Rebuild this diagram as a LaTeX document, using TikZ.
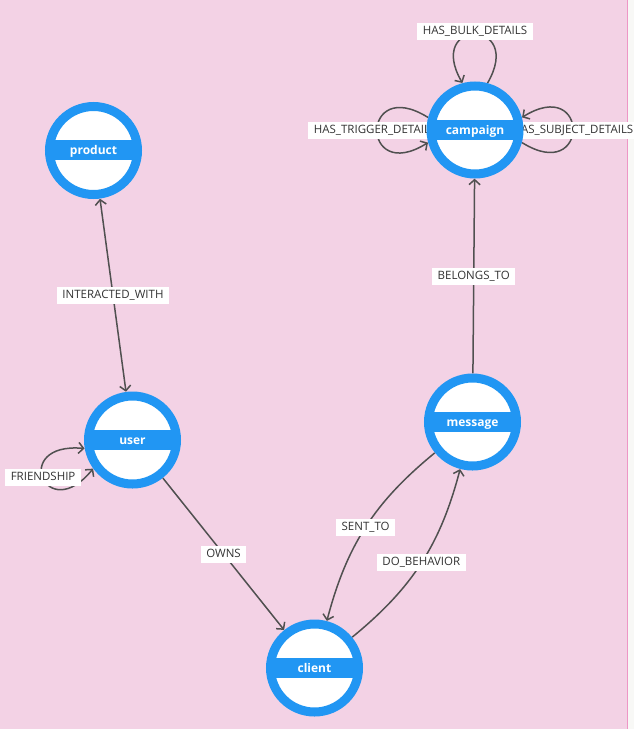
\documentclass[tikz,border=0pt]{standalone}
\usepackage{fontspec}
\setmainfont{Open Sans}
\usetikzlibrary{arrows.meta,calc}
\definecolor{bgpink}{RGB}{243,210,229}
\definecolor{nodeblue}{RGB}{33,150,243}
\definecolor{edgegrey}{RGB}{80,80,80}
\definecolor{striprule}{RGB}{238,150,198}
\definecolor{stripbg}{RGB}{248,248,246}
\definecolor{labeltext}{RGB}{51,51,51}
\newcommand\drawgnode[2]{%
  \fill[white] (#1.center) circle (44pt);
  \begin{scope}
    \clip (#1.center) circle (44pt);
    \fill[nodeblue] ($(#1.center)+(-50pt,-9.5pt)$) rectangle ($(#1.center)+(50pt,10.5pt)$);
  \end{scope}
  \draw[nodeblue,line width=9pt] (#1.center) circle (44pt);
  \node[nodetext] at ($(#1.center)+(0,1)$) {#2};}
\begin{document}
\begin{tikzpicture}[x=1pt,y=-1pt,
  anchornode/.style={circle,minimum size=97pt,inner sep=0pt},
  tipbarb/.tip={Straight Barb[length=5pt,width=11pt]},
  rel/.style={draw=edgegrey,line width=1.5pt,-tipbarb},
  birel/.style={draw=edgegrey,line width=1.5pt,tipbarb-tipbarb},
  rellabel/.style={fill=white,text=labeltext,font=\fontsize{11.5}{12}\selectfont,inner xsep=5.5pt,inner ysep=3pt,text height=8.5pt,text depth=2.5pt},
  nodetext/.style={text=white,font=\fontsize{12}{13}\selectfont\bfseries,inner sep=0pt,text height=8.5pt,text depth=2.5pt}
]
\useasboundingbox (0,0) rectangle (634,729);
\clip (0,0) rectangle (634,729);
\fill[bgpink] (0,0) rectangle (634,729);
\fill[stripbg] (628,0) rectangle (634,729);
\draw[striprule,line width=1.2pt] (627.5,0) -- (627.5,729);

\node[anchornode] (product) at (93.5,150.5) {};
\node[anchornode] (campaign) at (475,130) {};
\node[anchornode] (user) at (132.5,440) {};
\node[anchornode] (message) at (472.5,422) {};
\node[anchornode] (client) at (314.5,668) {};

\draw[birel] (product) -- node[rellabel]{INTERACTED\_WITH} (user);
\draw[rel] (user) -- node[rellabel]{OWNS} (client);
\draw[rel] (message) -- node[rellabel]{BELONGS\_TO} (campaign);
\draw[rel] (message) to[bend right=18] node[rellabel]{SENT\_TO} (client);
\draw[rel] (client) to[bend right=18] node[rellabel]{DO\_BEHAVIOR} (message);

\draw[birel] (user.190) .. controls +(175:75pt) and +(231:75pt) .. node[rellabel]{FRIENDSHIP} (user.216);
\draw[rel] (campaign.75) .. controls +(60:75pt) and +(120:75pt) .. node[rellabel,yshift=3pt]{HAS\_BULK\_DETAILS} (campaign.105);
\draw[rel] (campaign.165) .. controls +(148:80pt) and +(212:80pt) .. node[rellabel,xshift=-2pt]{HAS\_TRIGGER\_DETAILS} (campaign.195);
\draw[rel] (campaign.-15) .. controls +(-32:80pt) and +(32:80pt) .. node[rellabel]{HAS\_SUBJECT\_DETAILS} (campaign.15);

\drawgnode{product}{product}
\drawgnode{campaign}{campaign}
\drawgnode{user}{user}
\drawgnode{message}{message}
\drawgnode{client}{client}
\end{tikzpicture}
\end{document}
